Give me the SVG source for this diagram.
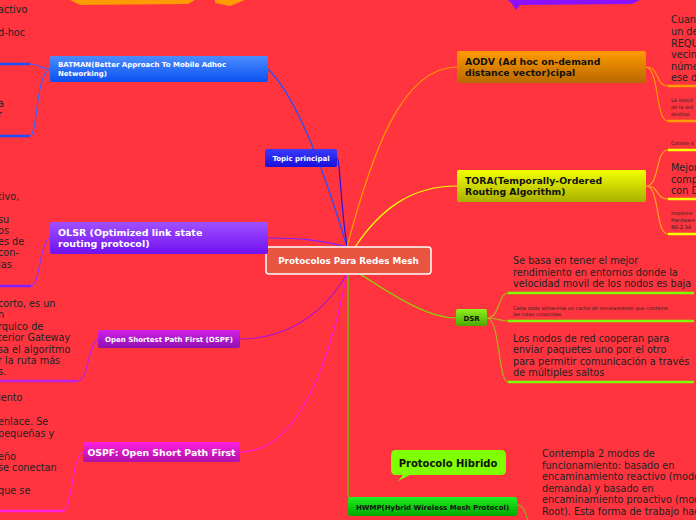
<svg xmlns="http://www.w3.org/2000/svg" width="696" height="520" viewBox="0 0 696 520">
<defs>
<linearGradient id="gBlue" x1="0" y1="0" x2="0" y2="1"><stop offset="0" stop-color="#4d8cff"/><stop offset="1" stop-color="#0a50f0"/></linearGradient>
<linearGradient id="gTopic" x1="0" y1="0" x2="0" y2="1"><stop offset="0" stop-color="#3a3aff"/><stop offset="1" stop-color="#1a10d8"/></linearGradient>
<linearGradient id="gPurple" x1="0" y1="0" x2="0" y2="1"><stop offset="0" stop-color="#a050ff"/><stop offset="1" stop-color="#7010f0"/></linearGradient>
<linearGradient id="gMag" x1="0" y1="0" x2="0" y2="1"><stop offset="0" stop-color="#d020e8"/><stop offset="1" stop-color="#9010b0"/></linearGradient>
<linearGradient id="gPink" x1="0" y1="0" x2="0" y2="1"><stop offset="0" stop-color="#ff20e0"/><stop offset="1" stop-color="#b010a8"/></linearGradient>
<linearGradient id="gOrange" x1="0" y1="0" x2="0" y2="1"><stop offset="0" stop-color="#ff9a00"/><stop offset="1" stop-color="#b86800"/></linearGradient>
<linearGradient id="gYellow" x1="0" y1="0" x2="0" y2="1"><stop offset="0" stop-color="#f4ff00"/><stop offset="1" stop-color="#a8b000"/></linearGradient>
<linearGradient id="gGreen" x1="0" y1="0" x2="0" y2="1"><stop offset="0" stop-color="#90f020"/><stop offset="1" stop-color="#4aa800"/></linearGradient>
<linearGradient id="gGreen2" x1="0" y1="0" x2="0" y2="1"><stop offset="0" stop-color="#20f020"/><stop offset="1" stop-color="#00a800"/></linearGradient>
</defs>
<style>
text{font-family:"DejaVu Sans",Verdana,sans-serif;}
.w{fill:#fff;font-weight:bold;}
.b{fill:#111;font-weight:bold;}
.t{fill:#222;font-size:9.7px;}
.s{fill:#222;font-size:5px;}
.c{fill:none;stroke-width:1.2;}
</style>
<rect width="696" height="520" fill="#ff343f"/>
<path d="M70,0 L195,0 L188,4 L80,5 Z" fill="#ff9a00"/>
<path d="M215,0 L245,0 L230,6 L215,3 Z" fill="#ff9a00"/>
<path d="M508,0 L640,0 L632,4 L520,5 L516,10 L512,4 Z" fill="#8a10ff"/>
<g id="connectors">
<path class="c" stroke="#2050ff" d="M347,247 C330,190 300,100 268,69"/>
<path class="c" stroke="#2a10e0" d="M347,247 C340,200 340,158 337,158"/>
<path class="c" stroke="#8020ff" d="M347,247 C320,240 300,238 268,238"/>
<path class="c" stroke="#b010d0" d="M347,274 C320,320 280,339 240,339"/>
<path class="c" stroke="#ff10e0" d="M347,274 C330,360 300,452 240,452"/>
<path class="c" stroke="#ff9a00" d="M347,247 C370,160 400,67 457,67"/>
<path class="c" stroke="#f4ff00" d="M355,247 C380,210 410,186 457,186"/>
<path class="c" stroke="#80e000" d="M360,274 C400,300 430,318 456,318"/>
<path class="c" stroke="#40e000" stroke-width="2" d="M348,274 L348,497"/>
<path class="c" stroke="#4060ff" d="M50,69 C40,69 40,64 30,64 L0,64"/>
<path class="c" stroke="#4060ff" d="M50,69 C35,75 38,136 30,136 L0,136"/>
<path class="c" stroke="#9030ff" d="M50,238 C40,240 40,286 31,286 L0,286"/>
<path class="c" stroke="#c020e0" d="M98,339 C88,345 88,381 78,381 L0,381"/>
<path class="c" stroke="#ff20e0" d="M83,452 C72,455 72,511 63,511 L0,511"/>
<g stroke-width="2.5" fill="none">
<path stroke="#1a50ff" d="M0,64 L30,64 M0,136 L30,136"/>
<path stroke="#8020ff" d="M0,286 L31,286"/>
<path stroke="#c020e0" d="M0,381 L78,381"/>
<path stroke="#ff20e0" d="M0,511 L63,511"/>
<path stroke="#ff9a00" d="M668,86 L696,86 M668,121 L696,121"/>
<path stroke="#f4ff00" d="M668,150 L696,150 M668,199 L696,199 M668,234 L696,234"/>
<path stroke="#80ff00" d="M508,293 L694,293 M508,321 L694,321 M508,382 L694,382"/>
</g>
<path class="c" stroke="#ff9a00" d="M646,67 C660,67 655,86 668,86 M646,67 C660,70 655,121 668,121"/>
<path class="c" stroke="#ffa020" d="M646,186 C660,186 655,150 668,150 M646,186 C660,186 655,199 668,199 M646,186 C660,186 655,234 668,234"/>
<path class="c" stroke="#b0b020" d="M487,318 C500,318 498,293 508,293 M487,318 C500,318 498,321 508,321 M487,318 C500,318 498,382 508,382"/>
<path class="c" stroke="#a0a020" d="M517,505 C525,505 525,515 528,520"/>
</g>
<g id="center"><rect x="266" y="247" width="165" height="27" rx="3" fill="#e85540" stroke="#fff" stroke-width="1.5"/><text x="348.5" y="264" class="w" font-size="8.8" text-anchor="middle">Protocolos Para Redes Mesh</text></g>
<g id="topic"><rect x="265" y="149" width="72" height="18" rx="2" fill="url(#gTopic)"/><text x="301" y="161" class="w" font-size="7" text-anchor="middle">Topic principal</text></g>
<g id="batman"><rect x="50" y="56" width="218" height="26" rx="2" fill="url(#gBlue)"/><text x="58" y="67" class="w" font-size="7">BATMAN(Better Approach To Mobile Adhoc</text><text x="58" y="76" class="w" font-size="7">Networking)</text></g>
<g id="olsr"><rect x="50" y="222" width="218" height="32" rx="2" fill="url(#gPurple)"/><text x="58" y="236" class="w" font-size="9.5">OLSR (Optimized link state</text><text x="58" y="247" class="w" font-size="9.5">routing protocol)</text></g>
<g id="ospf1"><rect x="98" y="330" width="142" height="18" rx="2" fill="url(#gMag)"/><text x="169" y="342" class="w" font-size="7" text-anchor="middle">Open Shortest Path First (OSPF)</text></g>
<g id="ospf2"><rect x="83" y="442" width="157" height="20" rx="2" fill="url(#gPink)"/><text x="161.5" y="455.5" class="w" font-size="9.3" text-anchor="middle">OSPF: Open Short Path First</text></g>
<g id="aodv"><rect x="457" y="51" width="189" height="32" rx="2" fill="url(#gOrange)"/><text x="465" y="65" class="b" font-size="9.3">AODV (Ad hoc on-demand</text><text x="465" y="76" class="b" font-size="9.3">distance vector)cipal</text></g>
<g id="tora"><rect x="457" y="170" width="189" height="32" rx="2" fill="url(#gYellow)"/><text x="465" y="184" class="b" font-size="9.3">TORA(Temporally-Ordered</text><text x="465" y="195" class="b" font-size="9.3">Routing Algorithm)</text></g>
<g id="dsr"><rect x="456" y="309" width="31" height="17" rx="2" fill="url(#gGreen)"/><text x="471.5" y="320.5" class="b" font-size="7" text-anchor="middle">DSR</text></g>
<g id="hwmp"><rect x="348" y="497" width="169" height="19" rx="2" fill="url(#gGreen2)"/><text x="432.5" y="509.5" class="b" font-size="7" text-anchor="middle">HWMP(Hybrid Wireless Mesh Protocol)</text></g>
<g id="hibrido"><path d="M396,450 L501,450 Q506,450 506,455 L506,470 Q506,475 501,475 L410,475 L398,481 L403,475 L396,475 Q391,475 391,470 L391,455 Q391,450 396,450 Z" fill="#80ff00"/><text x="448" y="467" class="b" font-size="10" text-anchor="middle">Protocolo Hibrido</text></g>
<g id="texts">
<text class="t" x="-2" y="13">activo</text><text class="t" x="-2" y="36">d-hoc</text>
<text class="t" x="-2" y="107">a</text><text class="t" x="-2" y="118">r</text>
<text class="t" x="-2" y="200">tivo,</text><text class="t" x="-2" y="223">su</text><text class="t" x="-2" y="234">os</text><text class="t" x="-2" y="245">es de</text><text class="t" x="-2" y="256">con-</text><text class="t" x="-2" y="268">las</text>
<text class="t" x="-2" y="307">corto, es un</text><text class="t" x="-2" y="318">n</text><text class="t" x="-2" y="330">rquico de</text><text class="t" x="-2" y="341">terior Gateway</text><text class="t" x="-2" y="353">sa el algoritmo</text><text class="t" x="-2" y="364">r la ruta más</text><text class="t" x="-2" y="375">s.</text>
<text class="t" x="-2" y="401">iento</text><text class="t" x="-2" y="425">enlace. Se</text><text class="t" x="-2" y="437">pequeñas y</text><text class="t" x="-2" y="460">eño</text><text class="t" x="-2" y="471">se conectan</text><text class="t" x="-2" y="494">que se</text>
<text class="t" x="671" y="23">Cuan</text><text class="t" x="671" y="35">un de</text><text class="t" x="671" y="47">REQU</text><text class="t" x="671" y="58">vecin</text><text class="t" x="671" y="70">núme</text><text class="t" x="671" y="81">ese d</text>
<text class="s" x="671" y="102">La solicit</text><text class="s" x="671" y="109">de la red</text><text class="s" x="671" y="116">destino.</text>
<text class="s" x="671" y="145">Conteo d</text>
<text class="t" x="671" y="171">Mejor</text><text class="t" x="671" y="183">comp</text><text class="t" x="671" y="194">con D</text>
<text class="s" x="671" y="215">Impleme</text><text class="s" x="671" y="222">Hardware</text><text class="s" x="671" y="229">NS-2.34</text>
<text class="t" x="513" y="264">Se basa en tener el mejor</text><text class="t" x="513" y="276">rendimiento en entornos donde la</text><text class="t" x="513" y="287">velocidad movil de los nodos es baja</text>
<text class="s" x="513" y="310">Cada nodo almacena un cache de enrutamiento que contiene</text><text class="s" x="513" y="316">las rutas conocidas</text>
<text class="t" x="513" y="342">Los nodos de red cooperan para</text><text class="t" x="513" y="353">enviar paquetes uno por el otro</text><text class="t" x="513" y="365">para permitir comunicación a través</text><text class="t" x="513" y="376">de múltiples saltos</text>
<text class="t" x="542" y="457">Contempla 2 modos de</text><text class="t" x="542" y="469">funcionamiento: basado en</text><text class="t" x="542" y="480">encaminamiento reactivo (modo</text><text class="t" x="542" y="492">demanda) y basado en</text><text class="t" x="542" y="503">encaminamiento proactivo (modo</text><text class="t" x="542" y="515">Root). Esta forma de trabajo hace</text>
</g>
</svg>
